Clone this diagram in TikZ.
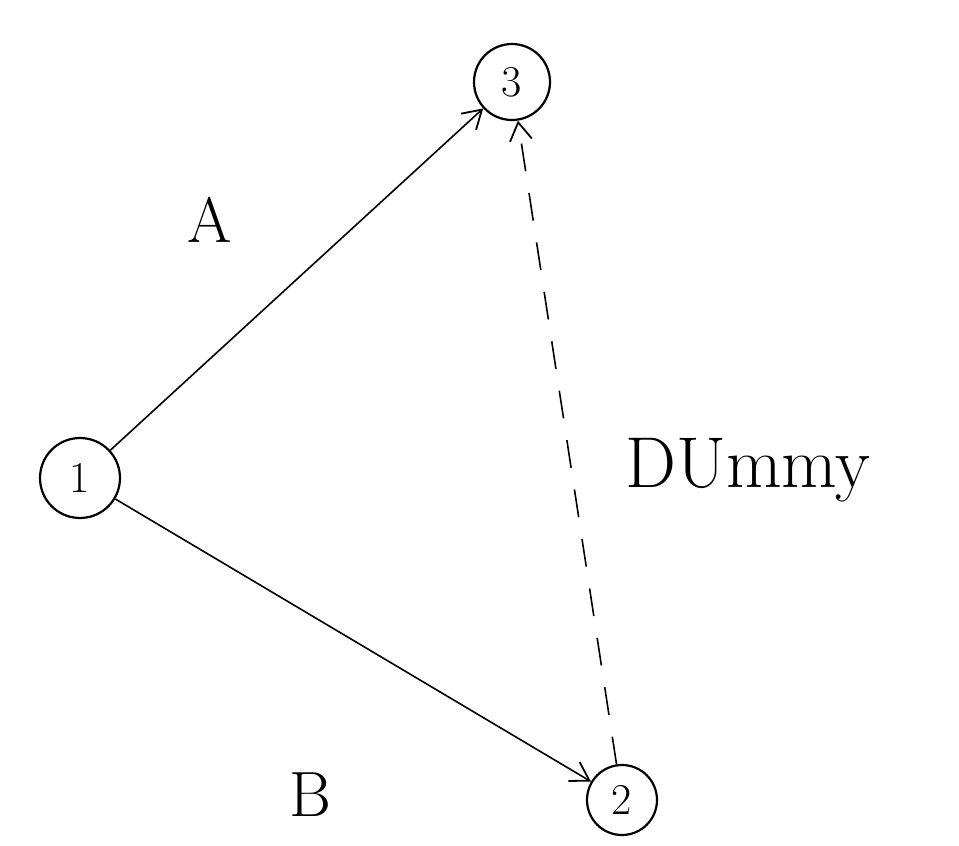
\documentclass[tikz,border=0pt]{standalone}
\usetikzlibrary{arrows.meta}
\begin{document}
\begin{tikzpicture}[x=1pt,y=-1pt,
  ev/.style={circle,draw,line width=2.2pt,minimum size=80pt,inner sep=0pt,font=\fontsize{44}{44}\selectfont},
  act/.style={line width=1.6pt,-{Straight Barb[length=18pt,width=22pt,line width=1.8pt]}},
  lbl/.style={font=\fontsize{64}{64}\selectfont}]
\useasboundingbox (0,0) rectangle (959,846);
\node[ev] (n1) at (80,478) {1};
\node[ev,minimum size=76pt] (n3) at (512,82) {3};
\node[ev,minimum size=70pt] (n2) at (622,800) {2};
\draw[act] (n1) -- (n3);
\draw[act] (n1) -- (n2);
\draw[act,dash pattern=on 28pt off 22pt] (n2) -- (n3);
\node[lbl] (la) at (210,220) {A};
\node[lbl] (lb) at (310,795) {B};
\node[lbl,anchor=west,font=\fontsize{72}{72}\selectfont] (ld) at (622,470) {DUmmy};
\end{tikzpicture}
\end{document}
